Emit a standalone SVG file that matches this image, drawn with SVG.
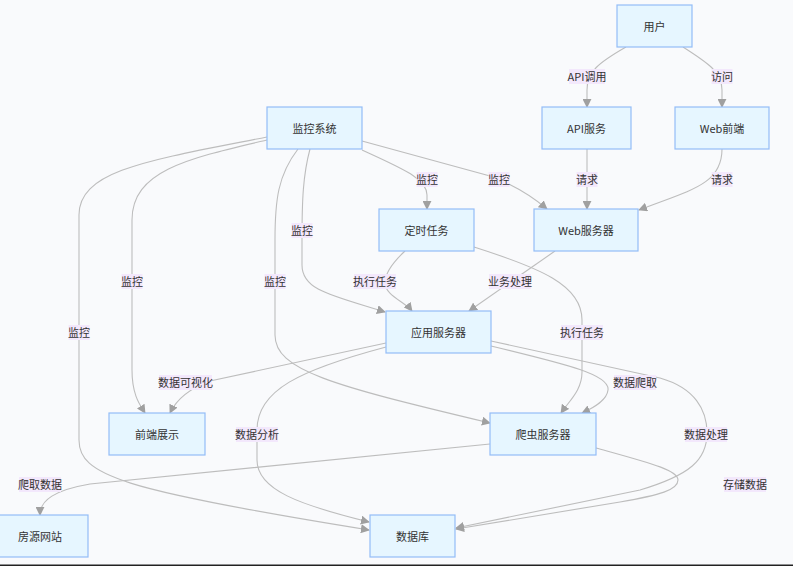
<svg xmlns="http://www.w3.org/2000/svg" width="793" height="566" viewBox="0 0 793 566">
<defs>
<style>
.node rect{fill:#e6f6ff;stroke:#93bdf7;stroke-width:1.2}
text{font-family:"Noto Sans CJK SC","Liberation Sans",sans-serif;font-size:11px;fill:#333;text-anchor:middle;dominant-baseline:central}
.edge{fill:none;stroke:#bdbdbd;stroke-width:1.1;marker-end:url(#arr)}
.lbl rect{fill:#f3e8fc}
</style>
<marker id="arr" viewBox="0 0 10 10" refX="9" refY="5" markerWidth="9" markerHeight="9" markerUnits="userSpaceOnUse" orient="auto">
<path d="M0,0 L10,5 L0,10 z" fill="#a0a0a0"/>
</marker>
</defs>
<rect width="793" height="566" fill="#f9fafc"/>
<g id="connectors">
<path class="edge" d="M626,47 C598,63 587,72 587,90 L587,107"/>
<path class="edge" d="M683,47 C708,63 722,72 722,90 L722,107"/>
<path class="edge" d="M587,149 L587,209"/>
<path class="edge" d="M722,149 C722,185 690,190 639,210"/>
<path class="edge" d="M362,150 C400,168 427,178 427,195 L427,209"/>
<path class="edge" d="M362,141 L490,176 Q522,188 547,209"/>
<path class="edge" d="M310,149 C303,175 302,200 302,240 L302,265 C302,290 330,295 385,312"/>
<path class="edge" d="M267,140 C190,158 132,170 132,220 L132,370 C132,395 140,405 145,413"/>
<path class="edge" d="M267,137 C150,160 79,170 79,215 L79,440 C79,475 120,490 369,530"/>
<path class="edge" d="M298,149 C278,175 275,200 275,240 L275,335 C275,370 330,385 490,423"/>
<path class="edge" d="M405,251 C390,265 385,275 385,283 C385,295 405,302 412,311"/>
<path class="edge" d="M555,251 L469,311"/>
<path class="edge" d="M474,247 C540,268 582,285 582,320 L582,372 C582,390 570,400 561,413"/>
<path class="edge" d="M386,343 L210,381 Q180,392 170,413"/>
<path class="edge" d="M491,346 C570,365 610,375 608,390 C607,400 595,407 582,413"/>
<path class="edge" d="M491,341 L660,378 C695,388 707,410 707,433 C707,460 690,475 640,490 L456,528"/>
<path class="edge" d="M386,347 C300,370 257,390 257,430 L257,460 C257,490 300,505 369,522"/>
<path class="edge" d="M490,444 L90,484 C55,490 40,500 40,515"/>
<path class="edge" d="M596,448 C650,463 678,470 678,480 C678,490 660,495 620,502 L456,529"/>
</g>
<g id="edge-labels">
<g class="lbl"><rect x="569" y="69" width="36" height="15"/><text x="587" y="76">API调用</text></g>
<g class="lbl"><rect x="711.5" y="69" width="21" height="15"/><text x="722" y="76">访问</text></g>
<g class="lbl"><rect x="576.5" y="172" width="21" height="15"/><text x="587" y="179">请求</text></g>
<g class="lbl"><rect x="711.5" y="172" width="21" height="15"/><text x="722" y="179">请求</text></g>
<g class="lbl"><rect x="416.5" y="172" width="21" height="15"/><text x="427" y="179">监控</text></g>
<g class="lbl"><rect x="488.5" y="172" width="21" height="15"/><text x="499" y="179">监控</text></g>
<g class="lbl"><rect x="291.5" y="223" width="21" height="15"/><text x="302" y="230">监控</text></g>
<g class="lbl"><rect x="121.5" y="274" width="21" height="15"/><text x="132" y="281">监控</text></g>
<g class="lbl"><rect x="264.5" y="274" width="21" height="15"/><text x="275" y="281">监控</text></g>
<g class="lbl"><rect x="68.5" y="325" width="21" height="15"/><text x="79" y="332">监控</text></g>
<g class="lbl"><rect x="354" y="274" width="42" height="15"/><text x="375" y="281">执行任务</text></g>
<g class="lbl"><rect x="489" y="274" width="42" height="15"/><text x="510" y="281">业务处理</text></g>
<g class="lbl"><rect x="561" y="325" width="42" height="15"/><text x="582" y="332">执行任务</text></g>
<g class="lbl"><rect x="159" y="375" width="53" height="15"/><text x="185.5" y="382">数据可视化</text></g>
<g class="lbl"><rect x="614" y="375" width="42" height="15"/><text x="635" y="382">数据爬取</text></g>
<g class="lbl"><rect x="236" y="427" width="42" height="15"/><text x="257" y="434">数据分析</text></g>
<g class="lbl"><rect x="685" y="427" width="42" height="15"/><text x="706" y="434">数据处理</text></g>
<g class="lbl"><rect x="19" y="477" width="42" height="15"/><text x="40" y="484">爬取数据</text></g>
<g class="lbl"><rect x="724" y="477" width="42" height="15"/><text x="745" y="484">存储数据</text></g>
</g>
<g id="user" class="node"><rect x="617" y="5" width="75" height="42"/><text x="654.5" y="26">用户</text></g>
<g id="api" class="node"><rect x="542" y="107" width="89" height="42"/><text x="586.5" y="128">API服务</text></g>
<g id="webfront" class="node"><rect x="675" y="107" width="94" height="42"/><text x="722" y="128">Web前端</text></g>
<g id="monitor" class="node"><rect x="267" y="107" width="95" height="42"/><text x="314.5" y="128">监控系统</text></g>
<g id="cron" class="node"><rect x="379" y="209" width="95" height="42"/><text x="426.5" y="230">定时任务</text></g>
<g id="webserver" class="node"><rect x="534" y="209" width="104" height="42"/><text x="586" y="230">Web服务器</text></g>
<g id="appserver" class="node"><rect x="386" y="311" width="105" height="42"/><text x="438.5" y="332">应用服务器</text></g>
<g id="frontend" class="node"><rect x="109" y="413" width="96" height="42"/><text x="157" y="434">前端展示</text></g>
<g id="crawler" class="node"><rect x="490" y="413" width="106" height="42"/><text x="543" y="434">爬虫服务器</text></g>
<g id="site" class="node"><rect x="-1" y="515" width="89" height="42"/><text x="40" y="536">房源网站</text></g>
<g id="db" class="node"><rect x="370" y="515" width="85" height="42"/><text x="412.5" y="536">数据库</text></g>
<rect x="0" y="564.5" width="793" height="1.5" fill="#222"/>
</svg>
